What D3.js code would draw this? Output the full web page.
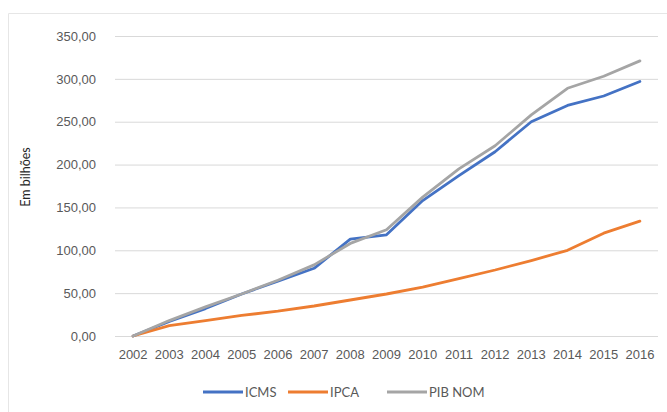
<!DOCTYPE html>
<html>
<head>
<meta charset="utf-8">
<script src="https://cdn.jsdelivr.net/npm/d3@7"></script>
<style>
  html, body { margin: 0; padding: 0; background: #fff; }
  svg { display: block; font-family: Lato, "Open Sans", sans-serif; }
</style>
</head>
<body>
<svg id="chart" width="667" height="412"></svg>
<script>
const years = ["2002","2003","2004","2005","2006","2007","2008","2009","2010","2011","2012","2013","2014","2015","2016"];
const icms = [0, 17, 32, 49, 64, 79, 113, 118, 158, 187, 215, 250, 269, 280, 297];
const ipca = [0, 12, 18, 24, 29, 35, 42, 49, 57, 67, 77, 88, 100, 120, 134];
const pibNom = [0, 18, 34, 49, 65, 83, 108, 124, 162, 195, 222, 258, 289, 303, 321];
const yTicks = [0, 50, 100, 150, 200, 250, 300, 350];
const seriesNames = ["ICMS", "IPCA", "PIB NOM"];
const seriesColors = ["#4472C4", "#ED7D31", "#A5A5A5"];
const yTitle = "Em bilhões";

(function () {
const series = [icms, ipca, pibNom].map((vals, i) => ({
  name: seriesNames[i], color: seriesColors[i],
  values: vals.map((v, j) => ({ year: years[j], v }))
}));

const svg = d3.select("#chart");
const W = 667, H = 412;
const mLeft = 115, mRight = 658, mTop = 36, mBottom = 336;

// chart frame (light)
svg.append("line").attr("x1", 8.5).attr("x2", W).attr("y1", 13.5).attr("y2", 13.5)
  .attr("stroke", "#e6e6e6").attr("stroke-width", 1);
svg.append("line").attr("x1", 8.5).attr("x2", 8.5).attr("y1", 13.5).attr("y2", H)
  .attr("stroke", "#e6e6e6").attr("stroke-width", 1);

const x = d3.scaleBand().domain(years).range([mLeft, mRight]);
const y = d3.scaleLinear().domain([0, 350]).range([mBottom, mTop]);

const fmt = v => d3.format(".2f")(v).replace(".", ",");

// gridlines + y labels via axis
const yAxis = d3.axisLeft(y).tickValues(yTicks).tickSize(-(mRight - mLeft)).tickFormat(fmt).tickPadding(19);
const gy = svg.append("g").attr("transform", `translate(${mLeft},0)`).call(yAxis);
gy.select(".domain").remove();
gy.selectAll(".tick line").attr("stroke", "#d9d9d9").attr("stroke-width", 1);
gy.selectAll(".tick text").attr("fill", "#595959").attr("font-size", 13);

// x axis labels
const xAxis = d3.axisBottom(x).tickSize(0).tickPadding(14);
const gx = svg.append("g").attr("transform", `translate(0,${mBottom})`).call(xAxis);
gx.select(".domain").remove();
gx.selectAll(".tick text").attr("fill", "#595959").attr("font-size", 13);

// y title
svg.append("text").attr("transform", `translate(30,177) rotate(-90)`)
  .attr("text-anchor", "middle").attr("font-size", 12.5).attr("fill", "#262626")
  .text(yTitle);

// lines
const line = d3.line().x(d => x(d.year) + x.bandwidth() / 2).y(d => y(d.v));
svg.append("g").selectAll("path").data(series).join("path")
  .attr("d", d => line(d.values))
  .attr("fill", "none").attr("stroke", d => d.color)
  .attr("stroke-width", 2.8).attr("stroke-linejoin", "round").attr("stroke-linecap", "round");

// legend
const legendX = [203, 288, 387];
const lg = svg.append("g").attr("transform", "translate(0,392)");
series.forEach((s, i) => {
  lg.append("line").attr("x1", legendX[i]).attr("x2", legendX[i] + 40).attr("y1", 0).attr("y2", 0)
    .attr("stroke", s.color).attr("stroke-width", 2.8);
  lg.append("text").attr("x", legendX[i] + 42).attr("y", 4.5)
    .attr("font-size", 13).attr("fill", "#595959").text(s.name);
});
})();
</script>
</body>
</html>
